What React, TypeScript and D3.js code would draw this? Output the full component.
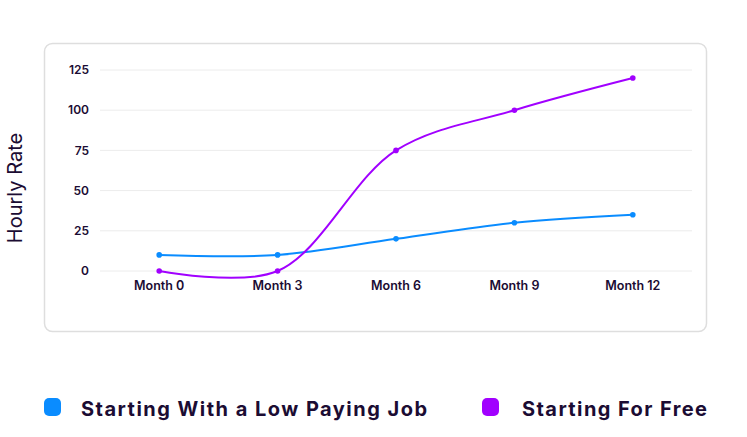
import React from 'react';
import * as d3 from 'd3';

const months = ['Month 0', 'Month 3', 'Month 6', 'Month 9', 'Month 12'];
const lowPayingJob = [10, 10, 20, 30, 35];
const startingFree = [0, 0, 75, 100, 120];
const yTicks = [0, 25, 50, 75, 100, 125];

const seriesNames = ['Starting With a Low Paying Job', 'Starting For Free'];
const seriesColors = ['#0a8cff', '#a100ff'];

const W = 747;
const H = 437;
const FONT = 'Inter, "Open Sans", sans-serif';
const INK = '#1b0c33';

function App() {
  // scales
  const x = d3.scaleBand().domain(months).range([100, 692]);
  const y = d3.scaleLinear().domain([0, 125]).range([271, 70]);
  const cx = (m: string) => (x(m) ?? 0) + x.bandwidth() / 2;

  const line = d3.line<number>()
    .x((_, i) => cx(months[i]))
    .y(d => y(d))
    .curve(d3.curveCatmullRom.alpha(0.5));

  const series = [lowPayingJob, startingFree];
  // legend text widths as in the original (wider font there)
  const legendWidths = [346, 185];
  const legendX = [44, 482];
  const legendTextX = [81, 522];

  return (
    <svg width={W} height={H} style={{ position: 'absolute', left: 0, top: 0 }}>
      <rect x={0} y={0} width={W} height={H} fill="#fff" />
      <rect x={44.5} y={43.5} width={662} height={288} rx={8} fill="#fff" stroke="#dedede" strokeWidth={1.5} />

      {/* grid + y ticks */}
      {yTicks.map(t => (
        <g key={t}>
          <line x1={100} x2={692} y1={y(t)} y2={y(t)} stroke="#ececec" strokeWidth={1} />
          <text x={89} y={y(t)} dy="0.35em" textAnchor="end" fontFamily={FONT} fontWeight={600}
            fontSize={12} fill={INK}>{t}</text>
        </g>
      ))}

      {/* x ticks */}
      {months.map(m => (
        <text key={m} x={cx(m)} y={286} dy="0.35em" textAnchor="middle" fontFamily={FONT}
          fontWeight={600} fontSize={12.5} fill={INK}>{m}</text>
      ))}

      <text transform={`translate(22, 188) rotate(-90)`} textAnchor="middle" fontFamily={FONT}
        fontSize={20} fill={INK}>Hourly Rate</text>

      {/* lines */}
      {series.map((s, k) => (
        <g key={k}>
          <path d={line(s) ?? ''} fill="none" stroke={seriesColors[k]} strokeWidth={2} />
          {s.map((v, i) => (
            <circle key={i} cx={cx(months[i])} cy={y(v)} r={2.8} fill={seriesColors[k]} />
          ))}
        </g>
      ))}

      {/* legend */}
      {legendX.map((lx, k) => (
        <g key={k}>
          <rect x={lx} y={398} width={17} height={18} rx={5} fill={seriesColors[k]} />
          <text x={legendTextX[k]} y={409} dy="0.35em" fontFamily={FONT} fontWeight={700}
            fontSize={20} textLength={legendWidths[k]} lengthAdjust="spacing" fill={INK}>{seriesNames[k]}</text>
        </g>
      ))}
    </svg>
  );
}

export default App;
